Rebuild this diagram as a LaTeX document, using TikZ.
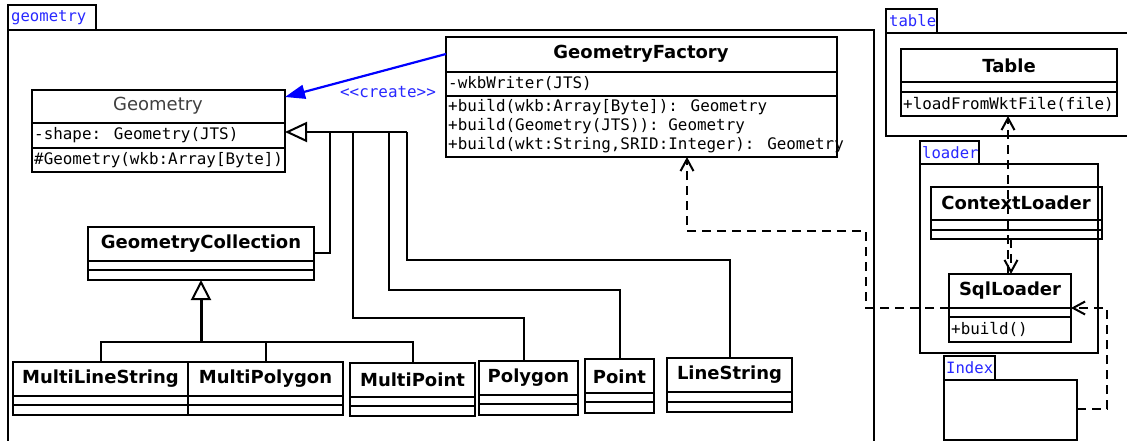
\documentclass[tikz,border=0pt]{standalone}
\usepackage{fontspec}
\setmainfont{DejaVu Sans}
\newfontfamily\clsfont{DejaVu Sans}
\newfontfamily\memfont{DejaVu Sans Mono}
\usetikzlibrary{arrows.meta,fit,calc}
\definecolor{pkgblue}{RGB}{40,40,255}
\tikzset{
  classbox/.style={draw, line width=2pt, inner sep=0pt, outer sep=0pt},
  sepl/.style={line width=2pt},
  cname/.style={font=\clsfont\bfseries\fontsize{18}{20}\selectfont, inner sep=0pt},
  gname/.style={font=\clsfont\fontsize{18}{20}\selectfont, text=black!75, inner sep=0pt},
  member/.style={font=\memfont\fontsize{15.9}{18}\selectfont, anchor=west, inner sep=0pt},
  pkgframe/.style={draw, line width=2pt, inner sep=0pt, outer sep=0pt},
  pkglabel/.style={font=\memfont\fontsize{15.6}{18}\selectfont, text=pkgblue, anchor=west, inner sep=0pt},
  genline/.style={line width=2pt},
  gentip/.style={-{Triangle[open, length=22pt, width=20pt, line width=2pt]}},
  dep/.style={line width=2pt, dash pattern=on 9pt off 6pt, -{Straight Barb[length=12pt, width=13pt, line width=2pt]}},
  create/.style={draw=blue, line width=2.2pt, -{Triangle[length=20pt, width=14pt]}}
}
\newcommand\clsbox[7]{%
  \node[classbox, fit={(#2,#3) (#4,#5)}] (#1) {};
  \draw[sepl] (#1.west |- 0,#6) -- (#1.east |- 0,#6);
  \draw[sepl] (#1.west |- 0,#7) -- (#1.east |- 0,#7);
}
\begin{document}
\begin{tikzpicture}[x=1pt, y=-1pt]
\useasboundingbox (0,0) rectangle (1127,441);
\clip (0,0) rectangle (1127,441);
\fill[white] (0,0) rectangle (1127,441);

% ---------- packages ----------
\node[pkgframe, fit={(8,5) (96,30)}] (geomtab) {};
\node[pkgframe, fit={(8,30) (874,442)}] (geompkg) {};
\node[pkglabel] (geomlbl) at (11,18) {geometry};

\node[pkgframe, fit={(886,9) (937,33)}] (tabletab) {};
\node[pkgframe, fit={(886,33) (1140,136)}] (tablepkg) {};
\node[pkglabel] (tablelbl) at (889,21) {table};

\node[pkgframe, fit={(920,141) (979,164)}] (loadertab) {};
\node[pkgframe, fit={(920,164) (1098,353)}] (loaderpkg) {};
\node[pkglabel] (loaderlbl) at (922,153) {loader};

\node[pkgframe, fit={(944,356) (995,380)}] (indextab) {};
\node[pkgframe, fit={(944,380) (1077,440)}] (idx) {};
\node[pkglabel] (indexlbl) at (946,368) {Index};

% ---------- classes ----------
\clsbox{geom}{32}{90}{285}{172}{123}{148}
\node[gname] (geomname) at (158,106) {Geometry};
\node[member] (geomattr) at (34,135) {-shape: Geometry(JTS)};
\node[member] (geomop) at (34,160) {\#Geometry(wkb:Array[Byte])};

\clsbox{fac}{446}{37}{837}{157}{72}{96}
\node[cname] (facname) at (641,54) {GeometryFactory};
\node[member] (facattr) at (448,84) {-wkbWriter(JTS)};
\node[member] (facop1) at (448,107) {+build(wkb:Array[Byte]): Geometry};
\node[member] (facop2) at (448,126) {+build(Geometry(JTS)): Geometry};
\node[member] (facop3) at (448,145) {+build(wkt:String,SRID:Integer): Geometry};

\clsbox{tbl}{901}{49}{1117}{116}{82}{92}
\node[cname] (tblname) at (1009,66) {Table};
\node[member] (tblop) at (903,104) {+loadFromWktFile(file)};

\clsbox{ctx}{931}{187}{1102}{239}{220}{230}
\node[cname] (ctxname) at (1016,203) {ContextLoader};

\clsbox{sql}{949}{274}{1071}{342}{308}{317}
\node[cname] (sqlname) at (1010,291) {SqlLoader};
\node[member] (sqlop) at (951,329) {+build()};

\clsbox{gc}{88}{227}{314}{280}{261}{270}
\node[cname] (gcname) at (201,244) {GeometryCollection};

\clsbox{mls}{13}{362}{188}{415}{396}{405}
\node[cname] (mlsname) at (100.5,379) {MultiLineString};
\clsbox{mpol}{188}{362}{343}{415}{396}{405}
\node[cname] (mpolname) at (265.5,379) {MultiPolygon};
\clsbox{mpt}{350}{363}{475}{416}{397}{406}
\node[cname] (mptname) at (412.5,380) {MultiPoint};
\clsbox{poly}{479}{361}{578}{415}{395}{404}
\node[cname] (polyname) at (528.5,378) {Polygon};
\clsbox{pt}{585}{359}{654}{413}{393}{402}
\node[cname] (ptname) at (619.5,377) {Point};
\clsbox{ls}{667}{358}{792}{412}{392}{402}
\node[cname] (lsname) at (729.5,375) {LineString};

% ---------- connectors ----------
\draw[create] ($(fac.north west)+(0,17)$) -- ($(geom.north east)+(0,7)$);
\node[font=\memfont\fontsize{15.9}{18}\selectfont, text=pkgblue, inner sep=0pt] (createlbl) at (388,92) {<\kern0pt<create>\kern0pt>};

% generalisation to Geometry
\coordinate (gj) at (407,132);
\draw[genline, gentip] (gj) -- (geom.east |- gj);
\draw[genline] (gc.east |- 0,253) -| (330,132);
\draw[genline] ($(poly.north west)+(45,0)$) |- (353,318) -- (353,132);
\draw[genline] (pt.north) |- (389,290) -- (389,132);
\draw[genline] (ls.north) |- (gj |- 0,260) -- (gj);

% generalisation to GeometryCollection
\coordinate (gcj) at (201,342);
\draw[line width=3pt, -{Triangle[open, length=20pt, width=20pt, line width=2pt]}] (gcj) -- (gc.south);
\draw[genline] (mls.north) |- (mpt.north |- gcj) -- (mpt.north);
\draw[genline] (mpol.north) -- (mpol.north |- gcj);

% dependencies
\draw[dep] (sql.west |- 0,308) -- (866,308) -- (866,231) -- (687,231) -- ($(fac.south west)+(241,0)$);
\draw[dep] (idx.east |- 0,409) -- (1107,409) -- (1107,308) -- (sql.east |- 0,308);
\draw[dep] (sql.north -| 1008,0) -- (tbl.south -| 1008,0);
\draw[dep] (ctx.south -| 1011,0) -- (sql.north -| 1011,0);
\end{tikzpicture}
\end{document}
